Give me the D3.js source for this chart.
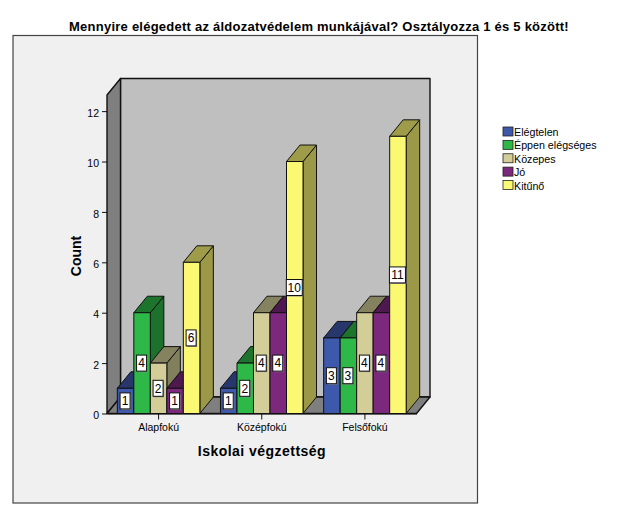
<!DOCTYPE html>
<html>
<head>
<meta charset="utf-8">
<script src="https://cdnjs.cloudflare.com/ajax/libs/d3/7.8.5/d3.min.js"></script>
<style>
    body { margin: 0; background: #fff; }
    text { font-family: "Liberation Sans", Arial, sans-serif; fill: #000; }
</style>
</head>
<body>
<svg id="chart" width="637" height="512"></svg>
<script>
// Values
const levels = ['Alapfokú', 'Középfokú', 'Felsőfokú'];
const ratings = ['Elégtelen', 'Éppen elégséges', 'Közepes', 'Jó', 'Kitűnő'];
const elegtelen = [1, 1, 3];
const eppenElegseges = [4, 2, 3];
const kozepes = [2, 4, 4];
const jo = [1, 4, 4];
const kituno = [6, 10, 11];
const yTicks = [0, 2, 4, 6, 8, 10, 12];
const colors = ['#3E58AC', '#2EB848', '#D3CE97', '#7B287D', '#FBF873'];

const seriesValues = [elegtelen, eppenElegseges, kozepes, jo, kituno];

const svg = d3.select('#chart');

// Outer panel
svg.append('rect')
    .attr('x', 13).attr('y', 35.5)
    .attr('width', 464.5).attr('height', 467.5)
    .attr('fill', '#f0f0f0')
    .attr('stroke', '#444')
    .attr('stroke-width', 1.2);

svg.append('text')
    .attr('x', 319).attr('y', 31)
    .attr('text-anchor', 'middle')
    .style('font-size', '13px')
    .style('font-weight', 'bold')
    .style('letter-spacing', '0.24px')
    .text('Mennyire elégedett az áldozatvédelem munkájával? Osztályozza 1 és 5 között!');

const plot = { left: 107, right: 416.5, top: 95, bottom: 413.5 };
const depthX = 13.5;
const depthY = 16.5;

const x0 = d3.scaleBand()
    .domain(levels)
    .range([plot.left, plot.right])
    .paddingInner(0.2)
    .paddingOuter(0.1);

const x1 = d3.scaleBand()
    .domain(ratings)
    .range([0, x0.bandwidth()]);

const y = d3.scaleLinear()
    .domain([0, 12.64])
    .range([plot.bottom, plot.top]);

const poly = pts => pts.map(p => p.join(',')).join(' ');

// Back wall, left wall and floor
const walls = svg.append('g')
    .attr('stroke', '#111')
    .attr('stroke-width', 1.4)
    .attr('stroke-linejoin', 'round');

walls.append('polygon')
    .attr('points', poly([
        [plot.left + depthX, plot.top - depthY],
        [plot.right + depthX, plot.top - depthY],
        [plot.right + depthX, plot.bottom - depthY],
        [plot.left + depthX, plot.bottom - depthY]
    ]))
    .attr('fill', '#bfbfbf');

walls.append('polygon')
    .attr('points', poly([
        [plot.left, plot.top],
        [plot.left + depthX, plot.top - depthY],
        [plot.left + depthX, plot.bottom - depthY],
        [plot.left, plot.bottom]
    ]))
    .attr('fill', '#7f7f7f');

walls.append('polygon')
    .attr('points', poly([
        [plot.left, plot.bottom],
        [plot.left + depthX, plot.bottom - depthY],
        [plot.right + depthX, plot.bottom - depthY],
        [plot.right, plot.bottom]
    ]))
    .attr('fill', '#7f7f7f');

// Flatten to one record per bar, drawn left to right so later bars overlap earlier sides
const bars = [];
levels.forEach((level, i) => {
    ratings.forEach((rating, j) => {
        bars.push({ level, rating, value: seriesValues[j][i], color: colors[j] });
    });
});

const bar = svg.append('g')
    .selectAll('g')
    .data(bars)
    .enter()
    .append('g')
    .attr('stroke', '#111')
    .attr('stroke-width', 1)
    .attr('stroke-linejoin', 'round');

const barLeft = d => x0(d.level) + x1(d.rating);
const barRight = d => barLeft(d) + x1.bandwidth();

bar.append('polygon')
    .attr('points', d => poly([
        [barRight(d), y(d.value)],
        [barRight(d) + depthX, y(d.value) - depthY],
        [barRight(d) + depthX, y(0) - depthY],
        [barRight(d), y(0)]
    ]))
    .attr('fill', d => d3.rgb(d.color).darker(1.35));

bar.append('polygon')
    .attr('points', d => poly([
        [barLeft(d), y(d.value)],
        [barLeft(d) + depthX, y(d.value) - depthY],
        [barRight(d) + depthX, y(d.value) - depthY],
        [barRight(d), y(d.value)]
    ]))
    .attr('fill', d => d3.rgb(d.color).darker(1.3));

bar.append('rect')
    .attr('x', barLeft)
    .attr('y', d => y(d.value))
    .attr('width', x1.bandwidth())
    .attr('height', d => y(0) - y(d.value))
    .attr('fill', d => d.color);

// Axes
const yAxis = svg.append('g')
    .attr('transform', `translate(${plot.left},0)`)
    .call(d3.axisLeft(y).tickValues(yTicks).tickSize(5).tickPadding(3));

const xAxis = svg.append('g')
    .attr('transform', `translate(0,${plot.bottom})`)
    .call(d3.axisBottom(x0).tickSize(6).tickSizeOuter(0).tickPadding(4));

[yAxis, xAxis].forEach(axis => {
    axis.selectAll('text')
        .style('font-family', '"Liberation Sans", Arial, sans-serif')
        .style('font-size', '10.5px')
        .style('fill', '#000');
    axis.selectAll('line').attr('stroke', '#111');
    axis.select('.domain').attr('stroke', '#111');
});
yAxis.select('.domain').remove();
// the reference sets its y labels a little below the tick
yAxis.selectAll('text').attr('dy', '0.5em');

// Value labels sit on top of everything
const label = svg.append('g')
    .selectAll('g')
    .data(bars)
    .enter()
    .append('g')
    .attr('transform', d => `translate(${barLeft(d) + x1.bandwidth() / 2 - 0.5},${y(d.value / 2)})`);

const labelWidth = d => (d.value >= 10 ? 16 : 10);

label.append('rect')
    .attr('x', d => -labelWidth(d) / 2 + 1)
    .attr('y', -7)
    .attr('width', labelWidth)
    .attr('height', 16)
    .attr('fill', '#8a8a8a');

label.append('rect')
    .attr('x', d => -labelWidth(d) / 2)
    .attr('y', -8)
    .attr('width', labelWidth)
    .attr('height', 16)
    .attr('fill', '#fff')
    .attr('stroke', '#111')
    .attr('stroke-width', 1);

label.append('text')
    .attr('text-anchor', 'middle')
    .attr('dy', '0.36em')
    .style('font-size', '12px')
    .text(d => d.value);

// Axis titles
svg.append('text')
    .attr('transform', 'translate(81,256) rotate(-90)')
    .attr('text-anchor', 'middle')
    .style('font-size', '14px')
    .style('font-weight', 'bold')
    .text('Count');

svg.append('text')
    .attr('x', 262).attr('y', 456)
    .attr('text-anchor', 'middle')
    .style('font-size', '14px')
    .style('font-weight', 'bold')
    .style('letter-spacing', '0.47px')
    .text('Iskolai végzettség');

// Legend
const legendY = d3.scalePoint()
    .domain(ratings)
    .range([127, 180.5]);

const legend = svg.append('g')
    .selectAll('g')
    .data(ratings)
    .enter()
    .append('g')
    .attr('transform', d => `translate(503,${legendY(d)})`);

legend.append('rect')
    .attr('width', 10)
    .attr('height', 9)
    .attr('fill', (d, i) => colors[i])
    .attr('stroke', '#222')
    .attr('stroke-width', 0.8);

legend.append('text')
    .attr('x', 11)
    .attr('y', 9)
    .style('font-size', '10.7px')
    .text(d => d);
</script>
</body>
</html>
